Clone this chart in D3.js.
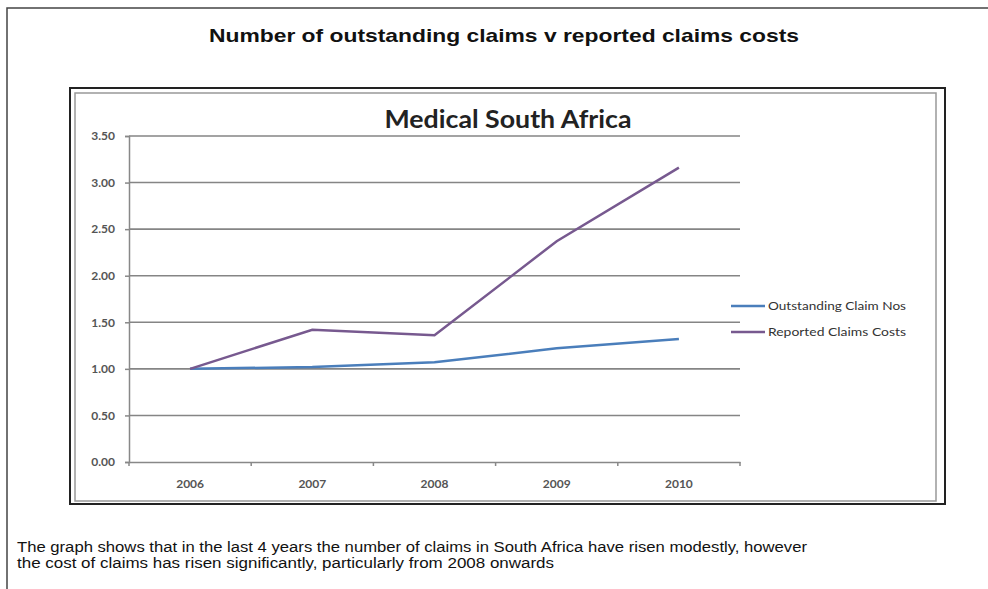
<!DOCTYPE html>
<html>
<head>
<meta charset="utf-8">
<script src="https://cdn.jsdelivr.net/npm/d3@7"></script>
<style>
  body { margin: 0; background: #fff; }
  svg { display: block; }
</style>
</head>
<body>
<div id="container"></div>
<script>
/* DATA */
const years = ["2006", "2007", "2008", "2009", "2010"];
const outstandingNos = [1.00, 1.02, 1.07, 1.22, 1.32];
const reportedCosts = [1.00, 1.42, 1.36, 2.37, 3.16];
const yTicks = [0, 0.5, 1, 1.5, 2, 2.5, 3, 3.5];
const seriesNames = ["Outstanding Claim Nos", "Reported Claims Costs"];
const seriesColors = ["#4a7ebb", "#77598f"];

const width = 988, height = 589;
const plot = { left: 129, right: 740, top: 136, bottom: 462 };

const svg = d3.select("#container")
  .append("svg")
  .attr("width", width)
  .attr("height", height);

// page frame
svg.append("rect")
  .attr("x", 7).attr("y", 8)
  .attr("width", 1000).attr("height", 600)
  .attr("fill", "none")
  .attr("stroke", "#444")
  .attr("stroke-width", 1.5);

svg.append("text")
  .attr("x", 504).attr("y", 42)
  .attr("text-anchor", "middle")
  .attr("font-family", "Liberation Sans Narrow, Liberation Sans, Arial, sans-serif")
  .attr("font-weight", "bold")
  .attr("font-size", 19)
  .attr("fill", "#111")
  .attr("textLength", 590)
  .attr("lengthAdjust", "spacingAndGlyphs")
  .text("Number of outstanding claims v reported claims costs");

// chart box (double border)
svg.append("rect")
  .attr("x", 70).attr("y", 88)
  .attr("width", 875).attr("height", 416)
  .attr("fill", "#fff")
  .attr("stroke", "#222")
  .attr("stroke-width", 2);
svg.append("rect")
  .attr("x", 75).attr("y", 93)
  .attr("width", 861).attr("height", 408)
  .attr("fill", "none")
  .attr("stroke", "#999")
  .attr("stroke-width", 1.5);

svg.append("text")
  .attr("x", 508).attr("y", 128)
  .attr("text-anchor", "middle")
  .attr("font-family", "Lato, sans-serif")
  .attr("font-weight", "bold")
  .attr("font-size", 24)
  .attr("fill", "#222")
  .attr("textLength", 247)
  .attr("lengthAdjust", "spacingAndGlyphs")
  .text("Medical South Africa");

/* SCALES */
const xScale = d3.scaleBand()
  .domain(years)
  .range([plot.left, plot.right])
  .padding(0);

const yScale = d3.scaleLinear()
  .domain([0, 3.5])
  .range([plot.bottom, plot.top]);

// gridlines
svg.append("g")
  .selectAll("line")
  .data(yTicks.filter(d => d > 0))
  .join("line")
  .attr("x1", plot.left).attr("x2", plot.right)
  .attr("y1", d => yScale(d)).attr("y2", d => yScale(d))
  .attr("stroke", "#858585")
  .attr("stroke-width", 1.6);

const yAxis = d3.axisLeft(yScale)
  .tickValues(yTicks)
  .tickFormat(d3.format(".2f"))
  .tickSize(4)
  .tickPadding(10);

const gy = svg.append("g")
  .attr("transform", `translate(${plot.left},0)`)
  .call(yAxis);

const xAxis = d3.axisBottom(xScale)
  .tickSize(0)
  .tickPadding(17);

const gx = svg.append("g")
  .attr("transform", `translate(0,${plot.bottom})`)
  .call(xAxis);

// tick marks on the category boundaries
gx.selectAll("line.bound")
  .data(years.map(d => xScale(d)).concat([plot.right]))
  .join("line")
  .attr("class", "bound")
  .attr("x1", d => d).attr("x2", d => d)
  .attr("y1", 0).attr("y2", 4)
  .attr("stroke", "#888")
  .attr("stroke-width", 1.5);

[gx, gy].forEach(g => {
  g.select(".domain").attr("stroke", "#888").attr("stroke-width", 1.5);
  g.selectAll(".tick line").attr("stroke", "#888").attr("stroke-width", 1.5);
  g.selectAll(".tick text")
    .attr("font-family", "Lato, sans-serif")
    .attr("font-size", 12)
    .attr("font-weight", "bold")
    .attr("fill", "#555");
});

/* LINES */
const line = d3.line()
  .x((d, i) => xScale(years[i]) + xScale.bandwidth() / 2)
  .y(d => yScale(d));

[outstandingNos, reportedCosts].forEach((vals, i) => {
  svg.append("path")
    .datum(vals)
    .attr("d", line)
    .attr("fill", "none")
    .attr("stroke", seriesColors[i])
    .attr("stroke-width", 2.5);
});

/* LEGEND */
const legend = svg.append("g")
  .selectAll("g")
  .data(seriesNames)
  .join("g")
  .attr("transform", (d, i) => `translate(731,${306 + i * 26})`);

legend.append("line")
  .attr("x1", 0).attr("x2", 34)
  .attr("stroke", (d, i) => seriesColors[i])
  .attr("stroke-width", 2.5);

legend.append("text")
  .attr("x", 37).attr("y", 4)
  .attr("font-family", "Lato, sans-serif")
  .attr("font-size", 12)
  .attr("fill", "#333")
  .attr("textLength", 138)
  .attr("lengthAdjust", "spacingAndGlyphs")
  .text(d => d);

/* CAPTION */
const caption = [
  { text: "The graph shows that in the last 4 years the number of claims in South Africa have risen modestly, however", len: 790 },
  { text: "the cost of claims has risen significantly, particularly from 2008 onwards", len: 537 }
];

svg.append("g")
  .selectAll("text")
  .data(caption)
  .join("text")
  .attr("x", 17)
  .attr("y", (d, i) => 552 + i * 16)
  .attr("font-family", "Liberation Sans Narrow, Liberation Sans, Arial, sans-serif")
  .attr("font-size", 14)
  .attr("fill", "#111")
  .attr("textLength", d => d.len)
  .attr("lengthAdjust", "spacingAndGlyphs")
  .text(d => d.text);
</script>
</body>
</html>
